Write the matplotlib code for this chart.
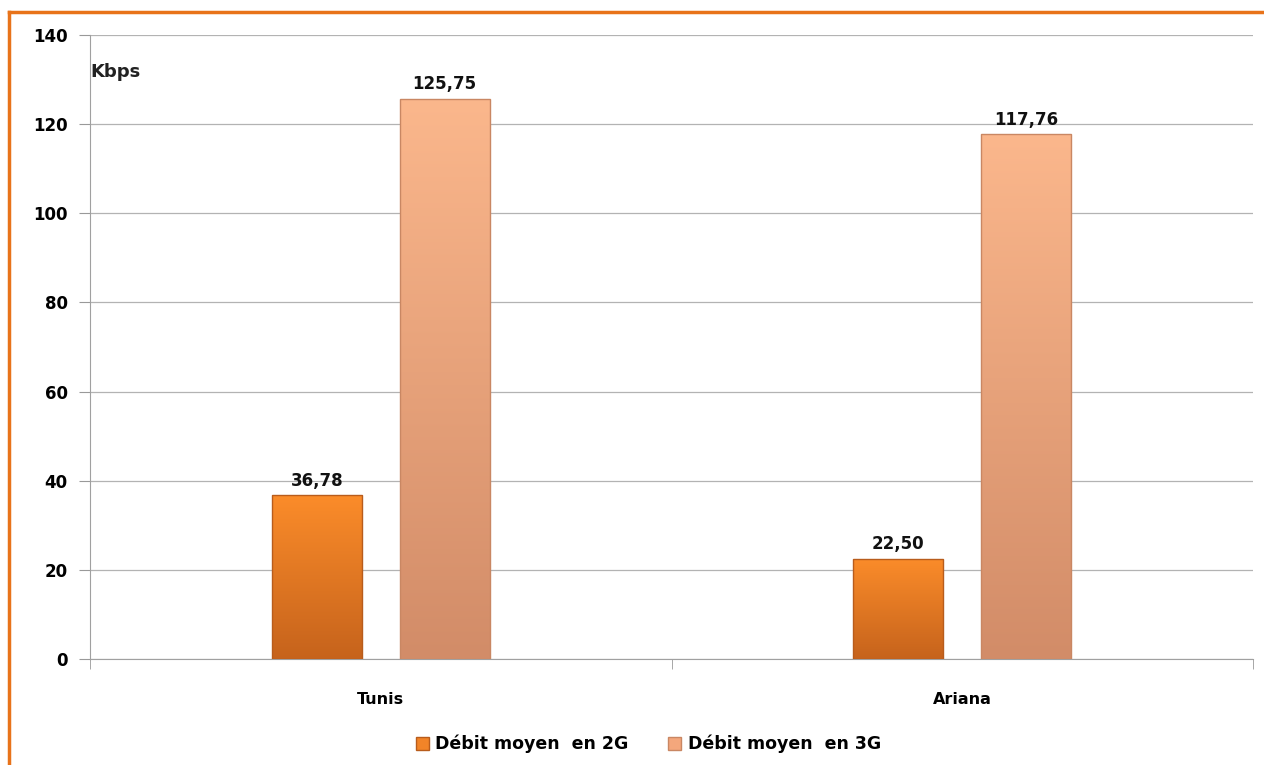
import numpy as np
import matplotlib
matplotlib.use("Agg")
import matplotlib.pyplot as plt
from matplotlib.patches import Rectangle
from matplotlib.colors import LinearSegmentedColormap

# ── Data ──────────────────────────────────────────────────────────────
categories = ["Tunis", "Ariana"]
debit_2g = [36.78, 22.50]
debit_3g = [125.75, 117.76]
series_labels = ["Débit moyen  en 2G", "Débit moyen  en 3G"]
y_ticks = [0, 20, 40, 60, 80, 100, 120, 140]

# ── Style ─────────────────────────────────────────────────────────────
plt.rcParams["font.family"] = ["DejaVu Sans"]
cmap_2g = LinearSegmentedColormap.from_list("c2g", ["#c6631c", "#fb8c2a"])
cmap_3g = LinearSegmentedColormap.from_list("c3g", ["#d28c68", "#fbb78c"])
face_2g, face_3g = "#f28428", "#f4a77c"

fig = plt.figure(figsize=(12.64, 7.65), dpi=100)
ax = fig.add_axes([90 / 1264, 1 - 659 / 765, 1163 / 1264, 624 / 765])

x = np.arange(len(categories))
width = 0.155
offset = 0.11


def gradient_bars(xs, heights, cmap, edge):
    bars = ax.bar(xs, heights, width, color="none", edgecolor="none", zorder=3)
    grad = np.linspace(0, 1, 256).reshape(-1, 1)
    for b in bars:
        x0, w, h = b.get_x(), b.get_width(), b.get_height()
        im = ax.imshow(grad, cmap=cmap, origin="lower", aspect="auto",
                       extent=[x0, x0 + w, 0, h], zorder=3)
        rect = Rectangle((x0, 0), w, h, transform=ax.transData)
        im.set_clip_path(rect)
        ax.add_patch(Rectangle((x0, 0), w, h, fill=False, edgecolor=edge,
                               lw=1.0, zorder=4))
    return bars


bars_2g = gradient_bars(x - offset, debit_2g, cmap_2g, "#b85c1c")
bars_3g = gradient_bars(x + offset, debit_3g, cmap_3g, "#c98763")

for b, v in list(zip(bars_2g, debit_2g)) + list(zip(bars_3g, debit_3g)):
    ax.text(b.get_x() + b.get_width() / 2, v + 1.2, f"{v:.2f}".replace(".", ","),
            ha="center", va="bottom", fontsize=12, fontweight="bold", color="#111111")

ax.set_xlim(-0.5, len(categories) - 0.5)
ax.set_ylim(0, 140)
ax.set_yticks(y_ticks)
ax.set_yticklabels([str(t) for t in y_ticks], fontsize=12, fontweight="bold")
ax.set_xticks(x)
ax.set_xticklabels(categories, fontsize=11.5, fontweight="bold")
ax.tick_params(axis="x", length=0, pad=24)
ax.set_xticks([-0.5, 0.5, 1.5], minor=True)
ax.tick_params(axis="x", which="minor", length=7, color="#999999")
ax.tick_params(axis="y", length=8, color="#999999", pad=8)
ax.grid(axis="y", color="#b3b3b3", lw=0.9, zorder=0)
ax.set_axisbelow(True)
for s in ["top", "right"]:
    ax.spines[s].set_visible(False)
ax.spines["left"].set_color("#a0a0a0")
ax.spines["bottom"].set_color("#a0a0a0")

ax.text(0.0, 0.955, "Kbps", transform=ax.transAxes, ha="left", va="top",
        fontsize=13, family=["Liberation Sans Narrow", "DejaVu Sans"],
        fontweight="bold", color="#222222")

handles = [Rectangle((0, 0), 1, 1, facecolor=face_2g, edgecolor="#b85c1c"),
           Rectangle((0, 0), 1, 1, facecolor=face_3g, edgecolor="#c98763")]
fig.legend(handles, series_labels, loc="center", bbox_to_anchor=(0.513, 1 - 744 / 765),
           ncol=2, frameon=False, handlelength=0.75, handleheight=0.75,
           handletextpad=0.35, columnspacing=2.3,
           prop={"size": 12.5, "weight": "bold"})

# orange frame (top and left edges)
fig.add_artist(plt.Line2D([9 / 1264, 1], [1 - 12 / 765, 1 - 12 / 765],
                          transform=fig.transFigure, color="#e8731a", lw=2.5))
fig.add_artist(plt.Line2D([9 / 1264, 9 / 1264], [0, 1 - 12 / 765],
                          transform=fig.transFigure, color="#e8731a", lw=2.5))

fig.savefig("out.png", dpi=100)
